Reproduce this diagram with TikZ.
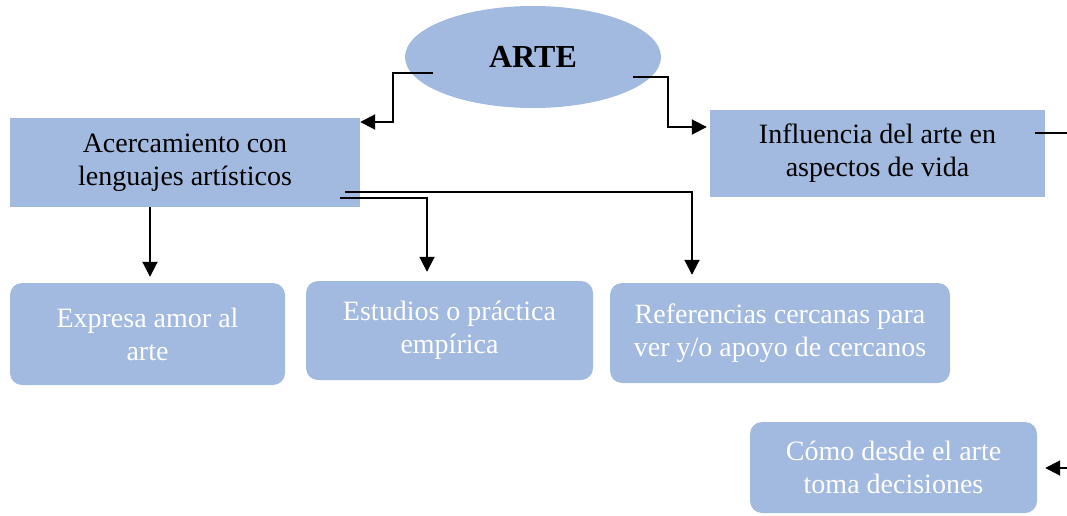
\documentclass[tikz,border=0pt]{standalone}
\usepackage{fontspec}
\setmainfont{Liberation Serif}
\usetikzlibrary{arrows.meta,shapes.geometric}
\definecolor{boxblue}{RGB}{162,185,224}
\tikzset{
  sqbox/.style={fill=boxblue, draw=none, inner sep=0pt, align=center, text=black,
    font=\fontsize{28}{33}\selectfont},
  rbox/.style={fill=boxblue, draw=none, rounded corners=12pt, inner sep=0pt, align=center, text=white,
    font=\fontsize{28}{33}\selectfont},
  conn/.style={draw=black, line width=1.9pt},
  arr/.style={conn, -{Triangle[length=15pt,width=15pt]}},
}
\begin{document}
\begin{tikzpicture}[x=1pt,y=-1pt]
\useasboundingbox (0,0) rectangle (1067,516);
% ellipse
\node[ellipse, fill=boxblue, minimum width=256pt, minimum height=102pt, inner sep=0pt,
  font=\fontsize{32}{36}\selectfont\bfseries] (arte) at (533,57) {ARTE};
% rectangles
\node[sqbox, minimum width=350pt, minimum height=89pt] (acer) at (185,162.5)
  {Acercamiento con\\lenguajes artísticos};
\node[sqbox, minimum width=335pt, minimum height=87pt] (infl) at (877.5,153.5)
  {Influencia del arte en\\aspectos de vida};
% rounded boxes
\node[rbox, minimum width=275pt, minimum height=102pt] (expr) at (147.5,334)
  {Expresa amor al\\arte};
\node[rbox, minimum width=287pt, minimum height=99pt] (estu) at (449.5,330.5)
  {Estudios o práctica\\empírica};
\node[rbox, minimum width=340pt, minimum height=100pt] (refe) at (780,333)
  {Referencias cercanas para\\ver y/o apoyo de cercanos};
\node[rbox, minimum width=287pt, minimum height=91pt] (como) at (893.5,467.5)
  {Cómo desde el arte\\toma decisiones};
% connector coordinates
\coordinate (aL) at (433,73);
\coordinate (aR) at (633,77);
\coordinate (cA) at (340,198);
\coordinate (cB) at (345,192);
\coordinate (iR) at (1067,133);
\coordinate (iC) at (1067,468);
% connectors
\draw[arr] (aL) -- (393,73) -- (393,122) -- (acer.east |- 0,122);
\draw[arr] (aR) -- (668,77) -- (668,127) -- ([xshift=-3pt]infl.west |- 0,127);
\draw[arr] (150,207) -- ([yshift=6pt]expr.north -| 150,0);
\draw[arr] (cA) -- (427,198) -- ([yshift=9pt]estu.north -| 427,0);
\draw[arr] (cB) -- (692,192) -- ([yshift=8pt]refe.north -| 692,0);
\draw[conn] (1035,133) -- (iR);
\draw[arr] (iC) -- ([xshift=8pt]como.east |- 0,468);
\end{tikzpicture}
\end{document}
